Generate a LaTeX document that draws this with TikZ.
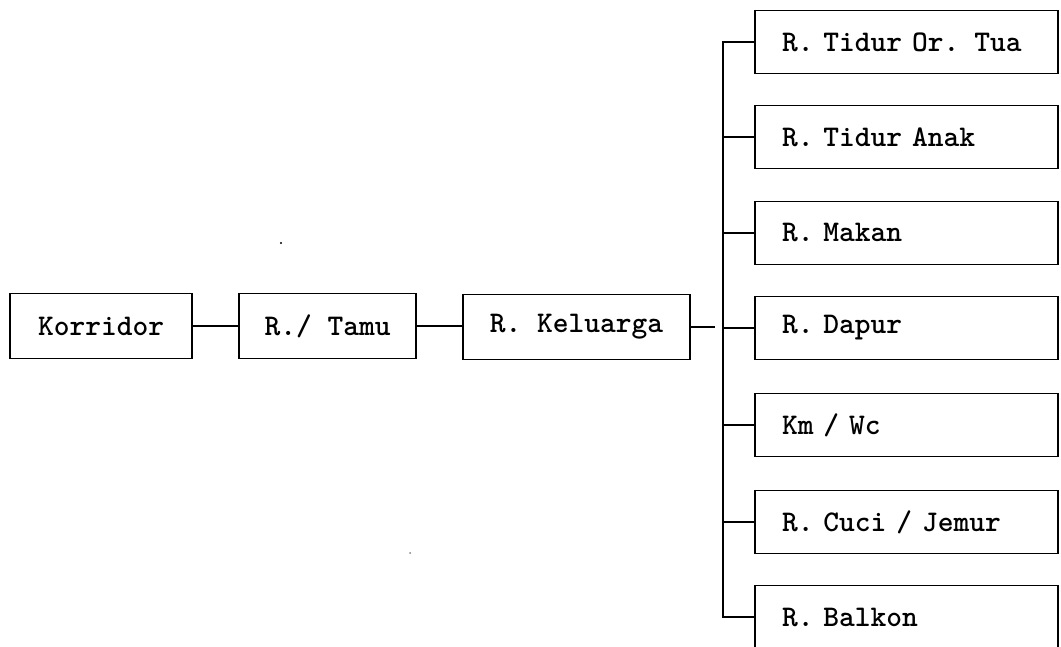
\documentclass[tikz,border=0pt]{standalone}
\begin{document}
\begin{tikzpicture}[x=1pt,y=-1pt,
  every node/.style={font=\ttfamily\bfseries\fontsize{30}{36}\selectfont},
  lbox/.style={draw, line width=1.8pt, rectangle, minimum height=65pt, inner sep=0pt},
  rbox/.style={draw, line width=1.8pt, rectangle, minimum height=63pt, text width=249pt, inner xsep=27pt, inner ysep=0pt, align=left},
  link/.style={line width=1.8pt}]
\useasboundingbox (0,0) rectangle (1061,647);
\clip (0,0) rectangle (1061,647);
% main chain
\node[lbox, minimum width=182pt] (korr) at (101,326) {Korridor};
\node[lbox, minimum width=177pt] (tamu) at (327.5,326) {R./ Tamu};
\node[lbox, minimum width=227pt] (kel) at (576.5,327) {R. Keluarga};
% right column
\node[rbox] (r1) at (906.5,42) {R. Tidur Or. Tua};
\node[rbox] (r2) at (906.5,137) {R. Tidur Anak};
\node[rbox] (r3) at (906.5,233) {R. Makan};
\node[rbox] (r4) at (906.5,328) {R. Dapur};
\node[rbox] (r5) at (906.5,425) {Km / Wc};
\node[rbox] (r6) at (906.5,522) {R. Cuci / Jemur};
\node[rbox] (r7) at (906.5,617) {R. Balkon};
% bus
\coordinate (btop) at (723,42);
\coordinate (bbot) at (723,617);
\coordinate (kend) at (715,327);
\draw[link] (korr.east) -- (tamu.west);
\draw[link] (tamu.east) -- (tamu.east -| kel.west);
\draw[link] (kel.east) -- (kend);
\draw[link] (r1.west) -- (btop) -- (bbot) -- (r7.west);
\foreach \n in {r2,r3,r4,r5,r6}{
  \draw[link] (\n.west) -- (\n.west -| btop);
}
% scan specks
\fill (281,243) circle (1.2pt);
\fill[gray] (410,553) circle (1pt);
\end{tikzpicture}
\end{document}
